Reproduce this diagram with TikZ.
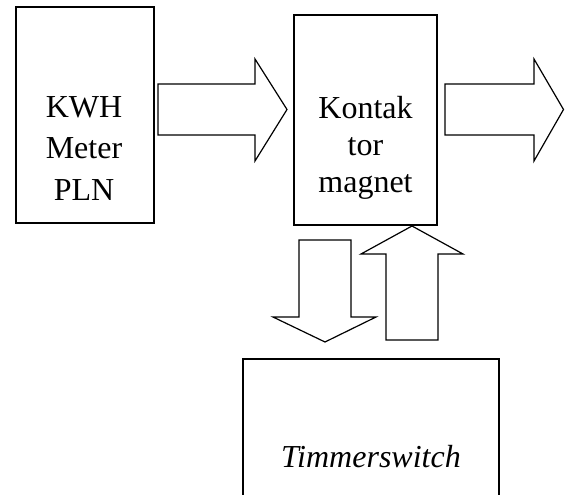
\documentclass[tikz,border=0pt]{standalone}
\usepackage{fontspec}
\setmainfont{Liberation Serif}
\begin{document}
\begin{tikzpicture}[x=1pt,y=1pt,
  box/.style={draw=black,line width=1.2pt,rectangle,inner sep=0pt},
  blockarrow/.style={draw=black,line width=1.2pt,line join=miter,fill=white},
  lbl/.style={align=center,inner sep=0pt,font=\fontsize{32}{41.5}\selectfont}]
\useasboundingbox (0,0) rectangle (565,-495);
\clip (0,0) rectangle (565,-495);
% boxes
\node[box,minimum width=138pt,minimum height=216pt] (kwh) at (85,-115) {};
\node[box,minimum width=143pt,minimum height=210pt] (kont) at (365.5,-120) {};
\node[box,minimum width=256pt,minimum height=151pt] (timer) at (371,-434.5) {};
% labels
\node[lbl,anchor=base] (kwhtext) at (84,-200) {KWH\\Meter\\PLN};
\node[lbl,anchor=base,font=\fontsize{32}{37}\selectfont] (konttext) at (365.5,-192) {Kontak\\tor\\magnet};
\node[lbl,anchor=base] (timertext) at (371,-467) {\itshape Timmerswitch};
% block arrows
\draw[blockarrow] (158,-84) -- (255,-84) -- (255,-59) -- (287,-109.5) -- (255,-161) -- (255,-135) -- (158,-135) -- cycle;
\draw[blockarrow] (445,-84) -- (534,-84) -- (534,-59) -- (563.5,-109.5) -- (534,-161) -- (534,-135) -- (445,-135) -- cycle;
\draw[blockarrow] (299,-240) -- (351,-240) -- (351,-317) -- (376,-317) -- (325,-342) -- (273,-317) -- (299,-317) -- cycle;
\draw[blockarrow] (386,-340) -- (438,-340) -- (438,-254) -- (463,-254) -- (412,-226) -- (361,-254) -- (386,-254) -- cycle;
\end{tikzpicture}
\end{document}
